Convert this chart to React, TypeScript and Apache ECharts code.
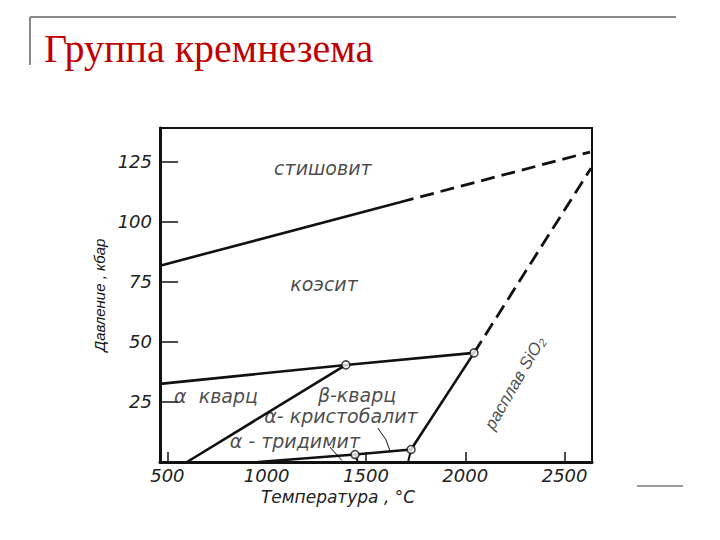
import React, { useEffect, useRef } from "react";
import * as echarts from "echarts";

// ---- Data (temperature °C, pressure kbar) ----
const titleText = "Группа кремнезема";
const xAxisTitle = "Температура , °С";
const yAxisTitle = "Давление , кбар";
const xLabelValues = [500, 1000, 1500, 2000, 2500];
const xTickValues = [500, 1500, 2000, 2500];
const yLabelValues = [25, 50, 75, 100, 125];

const coesiteStishoviteSolid = [[463, 81.7], [1671, 108.1]];
const coesiteStishoviteDashed = [[1671, 108.1], [2628, 129.0]];
const quartzCoesite = [[463, 32.5], [1399, 40.4], [2044, 45.4]];
const alphaBetaQuartz = [[599, 0], [1399, 40.4]];
const meltingSolid = [[2044, 45.4], [1727, 5.2]];
const meltingDashed = [[2044, 45.4], [2633, 122.3]];
const tridymiteBoundary = [[956, 0], [1445, 3.1], [1727, 5.2]];
const tridymiteCristobalite = [[1445, 3.1], [1460, 0]];
const cristobaliteMelt = [[1727, 5.2], [1712, 0]];
const tridymiteLeader = [[1319, 6.2], [1379, 0.6]];
const cristobaliteLeader = [[1560, 14.1], [1601, 9.2], [1621, 4.6]];
const invariantPoints = [[1399, 40.4], [2044, 45.4], [1445, 3.1], [1727, 5.2]];

const fieldNames = ["стишовит", "коэсит", "α  кварц", "β-кварц", "α- кристобалит", "α - тридимит"];
const fieldPositions = [[1283, 122.3], [1289, 74.1], [745, 27.5], [1455, 27.9], [1374, 19.1], [1142, 8.7]];
const meltLabel = "расплав SiO₂";
const meltLabelPosition = [2250, 32.9];

const lineColor = "#111";

function solid(data: number[][], width = 2.6) {
  return {
    type: "line",
    data,
    symbol: "none",
    silent: true,
    lineStyle: { color: lineColor, width, type: "solid" },
    z: 2,
  };
}
function dashed(data: number[][]) {
  return {
    type: "line",
    data,
    symbol: "none",
    silent: true,
    lineStyle: { color: lineColor, width: 2.8, type: [14, 7] },
    z: 2,
  };
}

export default function App() {
  const ref = useRef<HTMLDivElement>(null);
  useEffect(() => {
    if (!ref.current) return;
    const chart = echarts.init(ref.current, undefined, { renderer: "svg" });
    const textFont = "'DejaVu Sans', sans-serif";
    const narrowFont = "'Liberation Sans', sans-serif";
    chart.setOption({
      animation: false,
      backgroundColor: "#fff",
      graphic: [
        { type: "line", shape: { x1: 30, y1: 17, x2: 676, y2: 17 }, style: { stroke: "#8a8a8a", lineWidth: 2 } },
        { type: "line", shape: { x1: 30, y1: 17, x2: 30, y2: 65 }, style: { stroke: "#8a8a8a", lineWidth: 2 } },
        { type: "line", shape: { x1: 637, y1: 486, x2: 683, y2: 486 }, style: { stroke: "#9a9a9a", lineWidth: 2 } },
        {
          type: "text",
          x: 44,
          y: 28,
          style: {
            text: titleText,
            fill: "#c00000",
            fontFamily: "'Liberation Serif', 'DejaVu Serif', serif",
            fontSize: 40,
            fontWeight: "normal",
          },
        },
      ],
      grid: {
        left: 160,
        top: 128,
        width: 432,
        height: 334,
        show: true,
        borderColor: lineColor,
        borderWidth: 2,
        backgroundColor: "transparent",
      },
      xAxis: {
        type: "value",
        min: 463,
        max: 2638,
        name: xAxisTitle,
        nameLocation: "middle",
        nameGap: 24,
        nameTextStyle: {
          fontFamily: textFont,
          fontStyle: "italic",
          fontSize: 17,
          color: "#222",
          padding: [0, 76, 0, 0],
        },
        axisLine: { show: true, lineStyle: { color: lineColor, width: 3 } },
        axisTick: { show: true, inside: true, length: 10, customValues: xTickValues, lineStyle: { color: lineColor, width: 1.5 } },
        axisLabel: {
          customValues: xLabelValues,
          formatter: (v: number) => String(v),
          fontFamily: textFont,
          fontStyle: "italic",
          fontSize: 18,
          color: "#222",
          margin: 4,
        },
        splitLine: { show: false },
      },
      yAxis: {
        type: "value",
        min: 0,
        max: 139,
        name: yAxisTitle,
        nameLocation: "middle",
        nameRotate: 90,
        nameGap: 48,
        nameTextStyle: { fontFamily: narrowFont, fontStyle: "italic", fontSize: 15, color: "#111" },
        axisLine: { show: true, lineStyle: { color: lineColor, width: 3 } },
        axisTick: { show: true, inside: true, length: 18, customValues: yLabelValues, lineStyle: { color: lineColor, width: 1.5 } },
        axisLabel: {
          customValues: yLabelValues,
          formatter: (v: number) => String(v),
          fontFamily: textFont,
          fontStyle: "italic",
          fontSize: 18,
          color: "#222",
          margin: 8,
        },
        splitLine: { show: false },
      },
      series: [
        solid(coesiteStishoviteSolid),
        dashed(coesiteStishoviteDashed),
        solid(quartzCoesite),
        solid(alphaBetaQuartz),
        solid(meltingSolid),
        dashed(meltingDashed),
        solid(tridymiteBoundary),
        solid(tridymiteCristobalite, 2),
        solid(cristobaliteMelt, 2),
        solid(tridymiteLeader, 1),
        solid(cristobaliteLeader, 1),
        {
          type: "scatter",
          data: invariantPoints,
          symbol: "circle",
          symbolSize: 8,
          itemStyle: { color: "#fff", borderColor: lineColor, borderWidth: 1.5 },
          z: 5,
          silent: true,
        },
        {
          type: "scatter",
          data: fieldNames.map((n, i) => ({ name: n, value: fieldPositions[i] })),
          symbolSize: 1,
          itemStyle: { color: "rgba(0,0,0,0)" },
          label: {
            show: true,
            position: "inside",
            formatter: "{b}",
            fontFamily: textFont,
            fontStyle: "italic",
            fontSize: 19,
            color: "#1a1a1a",
          },
          z: 6,
          silent: true,
        },
        {
          type: "scatter",
          data: [{ name: meltLabel, value: meltLabelPosition }],
          symbolSize: 1,
          itemStyle: { color: "rgba(0,0,0,0)" },
          label: {
            show: true,
            position: "inside",
            formatter: "{b}",
            rotate: 60,
            fontFamily: narrowFont,
            fontStyle: "italic",
            fontSize: 17,
            color: "#1a1a1a",
          },
          z: 6,
          silent: true,
        },
      ],
    });
    return () => chart.dispose();
  }, []);
  return (
    <div
      ref={ref}
      style={{ position: "fixed", left: 0, top: 0, width: 720, height: 540, background: "#fff" }}
    />
  );
}
